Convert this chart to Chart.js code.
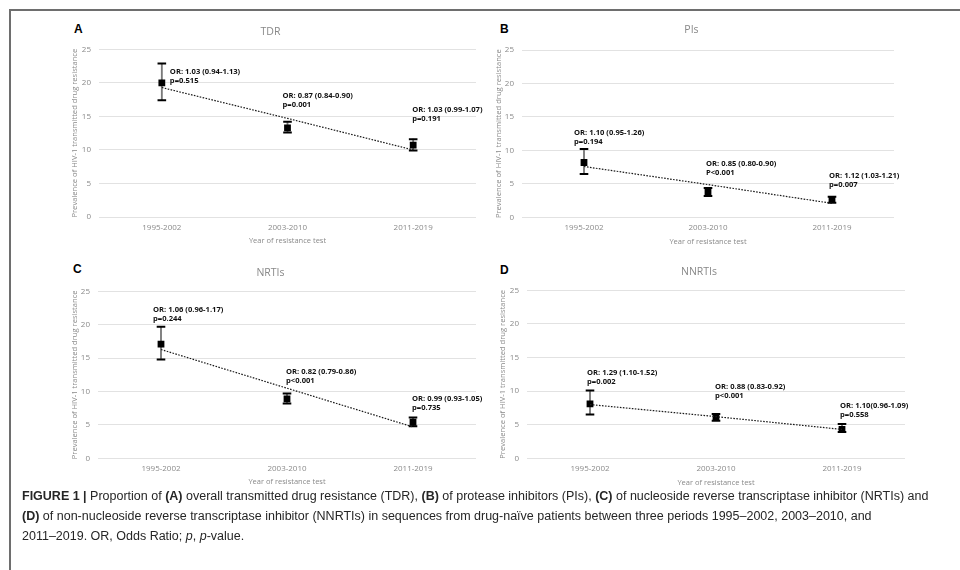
<!DOCTYPE html>
<html>
<head>
<meta charset="utf-8">
<script src="https://cdn.jsdelivr.net/npm/chart.js@4.4.1/dist/chart.umd.min.js"></script>
<style>
  html, body { margin: 0; padding: 0; background: #fff; width: 960px; height: 570px; overflow: hidden; }
  #frame { position: absolute; left: 9px; top: 9px; width: 980px; height: 600px;
           border-top: 2px solid #6e6e6e; border-left: 2px solid #6e6e6e; }
  canvas { position: absolute; }
  .letter { position: absolute; font: bold 12px/12px "Liberation Sans", Arial, sans-serif; color: #000; }
  #caption { position: absolute; left: 22px; top: 486px; white-space: nowrap;
             font: 12.5px/20px "Liberation Sans", Arial, sans-serif; color: #262626; }
</style>
</head>
<body>
<div id="frame"></div>
<div class="letter" style="left:74px;top:23px">A</div>
<div class="letter" style="left:500px;top:23px">B</div>
<div class="letter" style="left:73px;top:263px">C</div>
<div class="letter" style="left:500px;top:264px">D</div>
<canvas id="tdr"></canvas>
<canvas id="pis"></canvas>
<canvas id="nrtis"></canvas>
<canvas id="nnrtis"></canvas>
<div id="caption"><b>FIGURE 1 |</b> Proportion of <b>(A)</b> overall transmitted drug resistance (TDR), <b>(B)</b> of protease inhibitors (PIs), <b>(C)</b> of nucleoside reverse transcriptase inhibitor (NRTIs) and<br><b>(D)</b> of non-nucleoside reverse transcriptase inhibitor (NNRTIs) in sequences from drug-naïve patients between three periods 1995–2002, 2003–2010, and<br>2011–2019. OR, Odds Ratio; <i>p</i>, <i>p</i>-value.</div>

<script>
// Testing periods shared by all four panels
const periods = ['1995-2002', '2003-2010', '2011-2019'];

// Overall transmitted drug resistance (%)
const tdrPrevalence = [20.0, 13.3, 10.7];
const tdrLower = [17.4, 12.6, 9.9];
const tdrUpper = [22.9, 14.2, 11.6];
const tdrTrend = [19.3, 14.7, 10.0];
const tdrOR = ['OR: 1.03 (0.94-1.13)', 'OR: 0.87 (0.84-0.90)', 'OR: 1.03 (0.99-1.07)'];
const tdrP = ['p=0.515', 'p=0.001', 'p=0.191'];

// Protease inhibitors (%)
const piPrevalence = [8.2, 3.8, 2.7];
const piLower = [6.5, 3.2, 2.2];
const piUpper = [10.2, 4.4, 3.1];
const piTrend = [7.6, 4.9, 2.1];
const piOR = ['OR: 1.10 (0.95-1.26)', 'OR: 0.85 (0.80-0.90)', 'OR: 1.12 (1.03-1.21)'];
const piP = ['p=0.194', 'P<0.001', 'p=0.007'];

// Nucleoside reverse transcriptase inhibitors (%)
const nrtiPrevalence = [17.1, 8.9, 5.4];
const nrtiLower = [14.8, 8.2, 4.8];
const nrtiUpper = [19.7, 9.7, 6.1];
const nrtiTrend = [16.3, 10.5, 4.7];
const nrtiOR = ['OR: 1.06 (0.96-1.17)', 'OR: 0.82 (0.79-0.86)', 'OR: 0.99 (0.93-1.05)'];
const nrtiP = ['p=0.244', 'p<0.001', 'p=0.735'];

// Non-nucleoside reverse transcriptase inhibitors (%)
const nnrtiPrevalence = [8.1, 6.1, 4.3];
const nnrtiLower = [6.5, 5.6, 3.9];
const nnrtiUpper = [10.1, 6.6, 5.1];
const nnrtiTrend = [8.0, 6.2, 4.3];
const nnrtiOR = ['OR: 1.29 (1.10-1.52)', 'OR: 0.88 (0.83-0.92)', 'OR: 1.10(0.96-1.09)'];
const nnrtiP = ['p=0.002', 'p<0.001', 'p=0.558'];

const Y_TITLE = 'Prevalence of HIV-1 transmitted drug resistance';
const X_TITLE = 'Year of resistance test';

const AXIS_FONT = '"Open Sans", "DejaVu Sans", sans-serif';
const AXIS_GREY = '#8a8a8a';

// Page layout of each panel (plot rectangle and text rows) plus where the OR notes sit:
// each note is [horizontal shift in px from the period centre, height on the y scale].
const panels = [
  { id: 'tdr', title: 'TDR', values: tdrPrevalence, lower: tdrLower, upper: tdrUpper, trend: tdrTrend,
    or: tdrOR, p: tdrP,
    box: { plotLeft: 99, plotTop: 49, plotRight: 476, plotBottom: 217, titleY: 31.7, yTitleX: 75, xTickY: 228, xTitleY: 241 },
    notes: [[8, 21.6], [-5, 18.0], [-1, 16.0]] },
  { id: 'pis', title: 'PIs', values: piPrevalence, lower: piLower, upper: piUpper, trend: piTrend,
    or: piOR, p: piP,
    box: { plotLeft: 522, plotTop: 50, plotRight: 894, plotBottom: 217.7, titleY: 30, yTitleX: 499, xTickY: 228.3, xTitleY: 242.3 },
    notes: [[-10, 12.7], [-2, 8.0], [-3, 6.26]] },
  { id: 'nrtis', title: 'NRTIs', values: nrtiPrevalence, lower: nrtiLower, upper: nrtiUpper, trend: nrtiTrend,
    or: nrtiOR, p: nrtiP,
    box: { plotLeft: 98, plotTop: 291.7, plotRight: 476, plotBottom: 459.3, titleY: 273.3, yTitleX: 75, xTickY: 470, xTitleY: 483 },
    notes: [[-8, 22.3], [-1, 12.9], [-1, 8.94]] },
  { id: 'nnrtis', title: 'NNRTIs', values: nnrtiPrevalence, lower: nnrtiLower, upper: nnrtiUpper, trend: nnrtiTrend,
    or: nnrtiOR, p: nnrtiP,
    box: { plotLeft: 527, plotTop: 290, plotRight: 905, plotBottom: 458.3, titleY: 271.7, yTitleX: 503, xTickY: 469, xTitleY: 483 },
    notes: [[-3, 12.78], [-1, 10.6], [-2, 7.77]] }
];

// Writes the OR / p-value pair above each period
const oddsRatioNotes = {
  id: 'oddsRatioNotes',
  afterDatasetsDraw(chart, args, opts) {
    const { ctx, scales: { x, y } } = chart;
    ctx.save();
    ctx.fillStyle = '#111';
    ctx.font = 'bold 7.6px "Open Sans", "DejaVu Sans", sans-serif';
    ctx.textAlign = 'left';
    ctx.textBaseline = 'middle';
    opts.or.forEach((text, i) => {
      const [dx, level] = opts.notes[i];
      const px = x.getPixelForValue(i) + dx;
      const py = y.getPixelForValue(level);
      ctx.fillText(text, px, py);
      ctx.fillText(opts.p[i], px, py + 9);
    });
    ctx.restore();
  }
};

function buildPanel(cfg) {
  const b = cfg.box;
  const left = b.yTitleX - 10;
  const top = b.titleY - 10;
  const right = b.plotRight + 8;
  const bottom = b.xTitleY + 9;
  const canvas = document.getElementById(cfg.id);
  canvas.width = right - left;
  canvas.height = bottom - top;
  canvas.style.left = left + 'px';
  canvas.style.top = top + 'px';

  const titleLH = 10.5 * 1.2, yTitleLH = 7.5 * 1.2, tickLH = 8 * 1.2, xTitleLH = 7.5 * 1.2;

  new Chart(canvas, {
    type: 'line',
    data: {
      labels: periods,
      datasets: [
        { // dotted linear trend
          data: cfg.trend, borderColor: '#1a1a1a', borderWidth: 1.2, borderDash: [1.6, 1.4],
          pointRadius: 0, fill: false, tension: 0, order: 0
        },
        { // prevalence markers
          data: cfg.values, showLine: false, pointStyle: 'rect', pointRadius: 4.8,
          pointBackgroundColor: '#000', pointBorderColor: '#000', pointBorderWidth: 0, order: 1
        },
        { // upper whisker cap
          data: cfg.upper, showLine: false, pointStyle: 'line', pointRadius: 4.3,
          pointBorderColor: '#000', pointBorderWidth: 2, order: 2
        },
        { // lower whisker cap
          data: cfg.lower, showLine: false, pointStyle: 'line', pointRadius: 4.3,
          pointBorderColor: '#000', pointBorderWidth: 2, order: 3
        },
        { // confidence interval stem
          type: 'bar', data: cfg.lower.map((lo, i) => [lo, cfg.upper[i]]),
          backgroundColor: '#7a7a7a', borderWidth: 0, barThickness: 1.2, grouped: false, order: 4
        }
      ]
    },
    options: {
      responsive: false,
      maintainAspectRatio: false,
      animation: false,
      events: [],
      layout: { padding: { left: 0, top: 0, right: right - b.plotRight, bottom: 0 } },
      plugins: {
        legend: { display: false },
        tooltip: { enabled: false },
        title: {
          display: true, text: cfg.title, color: '#888',
          font: { family: AXIS_FONT, size: 10.5, weight: 'normal' },
          padding: { top: (b.titleY - top) - titleLH / 2, bottom: (b.plotTop - top) - ((b.titleY - top) + titleLH / 2) }
        },
        oddsRatioNotes: { or: cfg.or, p: cfg.p, notes: cfg.notes }
      },
      scales: {
        x: {
          type: 'category', offset: true,
          grid: { display: false, drawTicks: false },
          border: { display: false },
          ticks: { color: AXIS_GREY, font: { family: AXIS_FONT, size: 8 }, padding: (b.xTickY - b.plotBottom) - tickLH / 2, maxRotation: 0 },
          title: { display: true, text: X_TITLE, color: AXIS_GREY, font: { family: AXIS_FONT, size: 7.5 },
                   padding: { top: 0, bottom: (bottom - b.xTitleY) - xTitleLH / 2 } },
          afterFit(scale) { scale.height = bottom - b.plotBottom; }
        },
        y: {
          min: 0, max: 25,
          grid: { color: '#e2e2e2', lineWidth: 1, drawTicks: false },
          border: { display: false },
          ticks: { stepSize: 5, color: AXIS_GREY, font: { family: AXIS_FONT, size: 8 }, padding: 8 },
          title: { display: true, text: Y_TITLE, color: AXIS_GREY, font: { family: AXIS_FONT, size: 7.6 },
                   padding: { top: (b.yTitleX - left) - yTitleLH / 2, bottom: 0 } },
          afterFit(scale) { scale.width = b.plotLeft - left; }
        }
      }
    },
    plugins: [oddsRatioNotes]
  });
}

panels.forEach(buildPanel);
</script>
</body>
</html>
